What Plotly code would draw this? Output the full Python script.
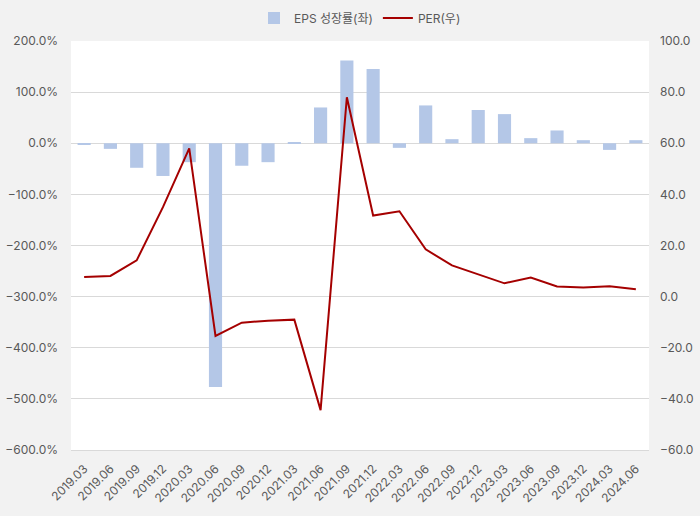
import plotly.graph_objects as go

quarters = ["2019.03","2019.06","2019.09","2019.12","2020.03","2020.06","2020.09","2020.12",
            "2021.03","2021.06","2021.09","2021.12","2022.03","2022.06","2022.09","2022.12",
            "2023.03","2023.06","2023.09","2023.12","2024.03","2024.06"]
eps_growth = [-3, -11, -48, -64, -37, -477, -44, -37, 2, 70, 162, 145, -9, 74, 8, 65, 57, 10, 25, 6, -13, 6]
per = [7.7, 8.1, 14.2, 35.0, 58.0, -15.4, -10.2, -9.4, -9.0, -44.4, 78.0, 31.7, 33.4, 18.5, 12.2, 8.6,
       5.2, 7.5, 4.0, 3.6, 4.1, 2.9]

font_fam = "Inter, Noto Sans CJK KR, sans-serif"
txt = "#595959"

fig = go.Figure()
fig.add_trace(go.Bar(x=quarters, y=eps_growth, name="EPS 성장률(좌)",
                     marker=dict(color="#b4c7e7", line=dict(width=0)), width=0.5, yaxis="y"))
fig.add_trace(go.Scatter(x=quarters, y=per, name="PER(우)", mode="lines",
                         line=dict(color="#a50000", width=2), yaxis="y2"))

fig.update_layout(
    width=700, height=516,
    margin=dict(l=71, r=51, t=41, b=66, autoexpand=False),
    paper_bgcolor="#f2f2f2", plot_bgcolor="#ffffff",
    font=dict(family=font_fam, size=12, color=txt),
    showlegend=True,
    legend=dict(orientation="h", x=0.5, xanchor="center", y=1.056, yanchor="middle",
                font=dict(size=12, color=txt), bgcolor="rgba(0,0,0,0)", itemwidth=30),
    xaxis=dict(type="category", tickangle=-45, showgrid=False, ticks="", tickfont=dict(size=12),
               showline=True, linecolor="#d9d9d9", linewidth=1, ticklabelstandoff=6),
    yaxis=dict(range=[-600, 200], dtick=100, tickformat=".1f", ticksuffix="%",
               gridcolor="#d9d9d9", zeroline=False, showline=False, ticks="", ticklabelstandoff=12),
    yaxis2=dict(range=[-60, 100], dtick=20, tickformat=".1f", overlaying="y", side="right",
                showgrid=False, zeroline=False, showline=False, ticks="", ticklabelstandoff=10),
)
fig.write_html("out.html")
